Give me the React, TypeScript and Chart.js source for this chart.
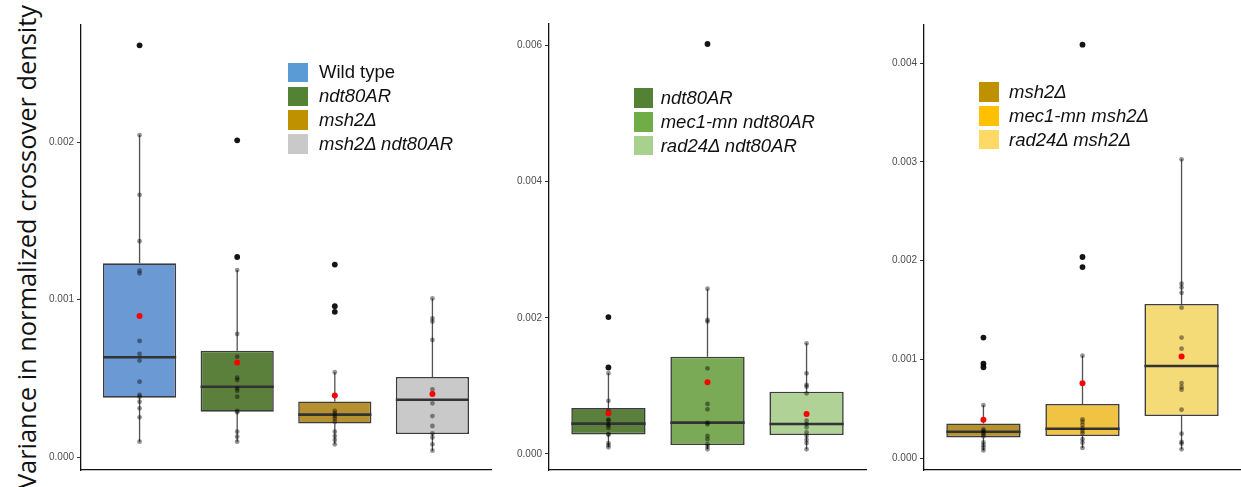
import React, { useEffect, useRef } from "react";
import { Chart, registerables } from "chart.js";
Chart.register(...registerables);

// ---------- Panel 1 ----------
const p1Labels = ["Wild type", "ndt80AR", "msh2Δ", "msh2Δ ndt80AR"];
const p1Italic = [false, true, true, true];
const p1Q1 = [0.000377, 0.000288, 0.000212, 0.000146];
const p1Median = [0.000633, 0.000446, 0.000269, 0.000364];
const p1Q3 = [0.00123, 0.000675, 0.000353, 0.000508];
const p1Low = [0.0000973, 0.0000973, 0.0000804, 0.00004];
const p1High = [0.002044, 0.001187, 0.000538, 0.001007];
const p1Mean = [0.000895, 0.0006, 0.00039, 0.0004];
const wtPoints = [0.002044, 0.001665, 0.00137, 0.001183, 0.001166, 0.000737, 0.000654, 0.000612, 0.000478, 0.000394, 0.000383, 0.000351, 0.000309, 0.000252, 0.0000973];
const wtOutliers = [0.002614];
const ndtPoints = [0.001187, 0.000781, 0.000637, 0.000504, 0.000489, 0.000436, 0.000421, 0.000383, 0.000292, 0.000284, 0.000161, 0.000129, 0.0000973];
const ndtOutliers = [0.002011, 0.00127];
const msh2Points = [0.000538, 0.000292, 0.000277, 0.00026, 0.000245, 0.000224, 0.000161, 0.000133, 0.000108, 0.0000804];
const msh2Outliers = [0.001222, 0.000958, 0.000922];
const msh2ndtPoints = [0.001007, 0.00088, 0.00086, 0.000743, 0.00043, 0.000404, 0.000341, 0.00026, 0.000197, 0.00015, 0.000124, 0.0000804, 0.00004];
const msh2ndtOutliers: number[] = [];

// ---------- Panel 2 ----------
const p2Labels = ["ndt80AR", "mec1-mn ndt80AR", "rad24Δ ndt80AR"];
const p2Q1 = [0.000288, 0.000132, 0.000279];
const p2Median = [0.000446, 0.00046, 0.00044];
const p2Q3 = [0.000675, 0.001429, 0.000915];
const p2Low = [0.0000973, 0.000069, 0.000069];
const p2High = [0.001187, 0.002428, 0.001625];
const p2Mean = [0.0006, 0.001053, 0.000587];
const mec1ndtPoints = [0.002428, 0.001968, 0.001944, 0.001258, 0.000734, 0.000656, 0.00046, 0.000435, 0.000264, 0.000215, 0.000142, 0.000108, 0.000069];
const mec1ndtOutliers = [0.00602];
const rad24ndtPoints = [0.001625, 0.001185, 0.001013, 0.000989, 0.000891, 0.000489, 0.00044, 0.000391, 0.000318, 0.000269, 0.00021, 0.000161, 0.000069];
const rad24ndtOutliers: number[] = [];

// ---------- Panel 3 ----------
const p3Labels = ["msh2Δ", "mec1-mn msh2Δ", "rad24Δ msh2Δ"];
const p3Q1 = [0.000212, 0.000226, 0.000428];
const p3Median = [0.000269, 0.0003, 0.000935];
const p3Q3 = [0.000353, 0.00055, 0.001562];
const p3Low = [0.0000804, 0.000105, 0.000091];
const p3High = [0.000538, 0.001039, 0.003026];
const p3Mean = [0.00039, 0.000759, 0.00103];
const mec1msh2Points = [0.001039, 0.000395, 0.000371, 0.000338, 0.000304, 0.000277, 0.000253, 0.000193, 0.000159, 0.000105];
const mec1msh2Outliers = [0.004187, 0.002038, 0.001936];
const rad24msh2Points = [0.003026, 0.001768, 0.00173, 0.001675, 0.001525, 0.001222, 0.00111, 0.000762, 0.000722, 0.000695, 0.000493, 0.00025, 0.000166, 0.000149, 0.000091];
const rad24msh2Outliers: number[] = [];

const yTitle = "Variance in normalized crossover density";

// colours
const C = {
  wt: { legend: "#5B9BD5", box: "#6A99D3" },
  ndt: { legend: "#548235", box: "#5B803C" },
  msh2: { legend: "#BF9000", box: "#B6912F" },
  msh2ndt: { legend: "#C9C9C9", box: "#C9C9C9" },
  mec1ndt: { legend: "#70AD47", box: "#7AAA55" },
  rad24ndt: { legend: "#A9D18E", box: "#B0D297" },
  mec1msh2: { legend: "#FFC000", box: "#F1C342" },
  rad24msh2: { legend: "#FFD966", box: "#F5DA78" },
};

type PanelProps = {
  canvasLeft: number;
  canvasWidth: number;
  axisWidth: number;
  top: number;
  bottom: number;
  yMin: number;
  yMax: number;
  step: number;
  q1: number[];
  med: number[];
  q3: number[];
  lo: number[];
  hi: number[];
  mean: number[];
  points: number[][];
  outliers: number[][];
  fills: string[];
};

const H = 487;
const FONT = "'Liberation Sans', Arial, sans-serif";

function BoxPanel(p: PanelProps) {
  const ref = useRef<HTMLCanvasElement>(null);
  useEffect(() => {
    if (!ref.current) return;
    const n = p.q1.length;
    const half = 0.375;
    const datasets: any[] = [];
    for (let i = 0; i < n; i++) {
      const x = i + 1;
      datasets.push({
        type: "line",
        data: [
          { x, y: p.lo[i] },
          { x, y: p.q1[i] },
          { x, y: null },
          { x, y: p.q3[i] },
          { x, y: p.hi[i] },
        ],
        borderColor: "rgba(50,50,50,0.85)",
        borderWidth: 1.3,
        pointRadius: 0,
        spanGaps: false,
        order: 6,
      });
    }
    datasets.push({
      type: "bar",
      data: p.q1.map((v, i) => ({ x: i + 1, y: [v, p.q3[i]] })),
      backgroundColor: p.fills,
      borderColor: "#3c3c3c",
      borderWidth: 1.6,
      borderSkipped: false,
      categoryPercentage: 0.75,
      barPercentage: 1,
      order: 5,
    });
    for (let i = 0; i < n; i++) {
      const x = i + 1;
      datasets.push({
        type: "line",
        data: [
          { x: x - half, y: p.med[i] },
          { x: x + half, y: p.med[i] },
        ],
        borderColor: "#333333",
        borderWidth: 2.6,
        pointRadius: 0,
        order: 4,
      });
    }
    datasets.push({
      type: "scatter",
      data: p.points.flatMap((arr, i) => arr.map((y) => ({ x: i + 1, y }))),
      backgroundColor: "rgba(0,0,0,0.42)",
      borderWidth: 0,
      pointRadius: 2.4,
      order: 3,
    });
    datasets.push({
      type: "scatter",
      data: p.outliers.flatMap((arr, i) => arr.map((y) => ({ x: i + 1, y }))),
      backgroundColor: "rgba(0,0,0,0.92)",
      borderWidth: 0,
      pointRadius: 2.9,
      order: 2,
    });
    datasets.push({
      type: "scatter",
      data: p.mean.map((y, i) => ({ x: i + 1, y })),
      backgroundColor: "#ff0000",
      borderWidth: 0,
      pointRadius: 3,
      order: 1,
    });

    const chart = new Chart(ref.current, {
      type: "bar",
      data: { datasets },
      options: {
        animation: false,
        responsive: false,
        devicePixelRatio: 1,
        layout: { padding: { left: 0, right: 0, top: p.top, bottom: H - p.bottom } },
        plugins: { legend: { display: false }, tooltip: { enabled: false } },
        events: [],
        scales: {
          x: {
            type: "linear",
            min: 0.4,
            max: n + 0.6,
            offset: false,
            ticks: { display: false, stepSize: 1, includeBounds: false },
            grid: { display: false },
            border: { display: true, color: "#111", width: 1.3 },
            afterFit: (s: any) => {
              s.height = 0;
            },
          },
          y: {
            type: "linear",
            min: p.yMin,
            max: p.yMax,
            ticks: {
              stepSize: p.step,
              includeBounds: false,
              padding: 3,
              color: "#4d4d4d",
              font: { size: 10, family: FONT },
              callback: (v: any) => Number(v).toFixed(3),
            },
            grid: {
              display: true,
              drawOnChartArea: false,
              drawTicks: true,
              tickLength: 4,
              color: "#333",
              lineWidth: 1,
            },
            border: { display: true, color: "#111", width: 1.3 },
            afterFit: (s: any) => {
              s.width = p.axisWidth;
            },
          },
        },
      } as any,
    });
    return () => chart.destroy();
  }, []);
  return (
    <canvas
      ref={ref}
      width={p.canvasWidth}
      height={H}
      style={{ position: "absolute", left: p.canvasLeft, top: 0, width: p.canvasWidth, height: H }}
    />
  );
}

function Legend(props: {
  left: number;
  top: number;
  textLeft: number;
  labels: string[];
  italic: boolean[];
  colors: string[];
}) {
  const rowH = 23.8;
  const sq = 19.5;
  return (
    <>
      {props.labels.map((lab, i) => (
        <React.Fragment key={lab}>
          <div
            style={{
              position: "absolute",
              left: props.left,
              top: props.top + i * rowH,
              width: sq,
              height: sq,
              background: props.colors[i],
            }}
          />
          <div
            style={{
              position: "absolute",
              left: props.textLeft,
              top: props.top + i * rowH + sq / 2 - 12,
              height: 24,
              lineHeight: "24px",
              fontFamily: FONT,
              fontSize: 18.5,
              fontStyle: props.italic[i] ? "italic" : "normal",
              color: "#111",
              whiteSpace: "nowrap",
            }}
          >
            {lab}
          </div>
        </React.Fragment>
      ))}
    </>
  );
}

export default function App() {
  return (
    <div style={{ position: "absolute", left: 0, top: 0, width: 1241, height: 487, background: "#fff", overflow: "hidden" }}>
      <div
        style={{
          position: "absolute",
          left: 26 - 260,
          top: 246.5 - 16,
          width: 520,
          height: 32,
          lineHeight: "32px",
          textAlign: "center",
          transform: "rotate(-90deg)",
          fontFamily: "'Open Sans', sans-serif",
          fontSize: 25.4,
          color: "#111",
          whiteSpace: "nowrap",
        }}
      >
        {yTitle}
      </div>
      <BoxPanel
        canvasLeft={0}
        canvasWidth={495}
        axisWidth={81}
        top={25}
        bottom={470}
        yMin={-0.0000825}
        yMax={0.002743}
        step={0.001}
        q1={p1Q1}
        med={p1Median}
        q3={p1Q3}
        lo={p1Low}
        hi={p1High}
        mean={p1Mean}
        points={[wtPoints, ndtPoints, msh2Points, msh2ndtPoints]}
        outliers={[wtOutliers, ndtOutliers, msh2Outliers, msh2ndtOutliers]}
        fills={[C.wt.box, C.ndt.box, C.msh2.box, C.msh2ndt.box]}
      />
      <BoxPanel
        canvasLeft={495}
        canvasWidth={375}
        axisWidth={54}
        top={24}
        bottom={470}
        yMin={-0.000235}
        yMax={0.006314}
        step={0.002}
        q1={p2Q1}
        med={p2Median}
        q3={p2Q3}
        lo={p2Low}
        hi={p2High}
        mean={p2Mean}
        points={[ndtPoints, mec1ndtPoints, rad24ndtPoints]}
        outliers={[ndtOutliers, mec1ndtOutliers, rad24ndtOutliers]}
        fills={[C.ndt.box, C.mec1ndt.box, C.rad24ndt.box]}
      />
      <BoxPanel
        canvasLeft={870}
        canvasWidth={375}
        axisWidth={54}
        top={25}
        bottom={470}
        yMin={-0.000118}
        yMax={0.004386}
        step={0.001}
        q1={p3Q1}
        med={p3Median}
        q3={p3Q3}
        lo={p3Low}
        hi={p3High}
        mean={p3Mean}
        points={[msh2Points, mec1msh2Points, rad24msh2Points]}
        outliers={[msh2Outliers, mec1msh2Outliers, rad24msh2Outliers]}
        fills={[C.msh2.box, C.mec1msh2.box, C.rad24msh2.box]}
      />
      <Legend
        left={288}
        top={62.7}
        textLeft={319}
        labels={p1Labels}
        italic={p1Italic}
        colors={[C.wt.legend, C.ndt.legend, C.msh2.legend, C.msh2ndt.legend]}
      />
      <Legend
        left={633.5}
        top={88.3}
        textLeft={660.7}
        labels={p2Labels}
        italic={[true, true, true]}
        colors={[C.ndt.legend, C.mec1ndt.legend, C.rad24ndt.legend]}
      />
      <Legend
        left={979.3}
        top={82.3}
        textLeft={1009}
        labels={p3Labels}
        italic={[true, true, true]}
        colors={[C.msh2.legend, C.mec1msh2.legend, C.rad24msh2.legend]}
      />
    </div>
  );
}
